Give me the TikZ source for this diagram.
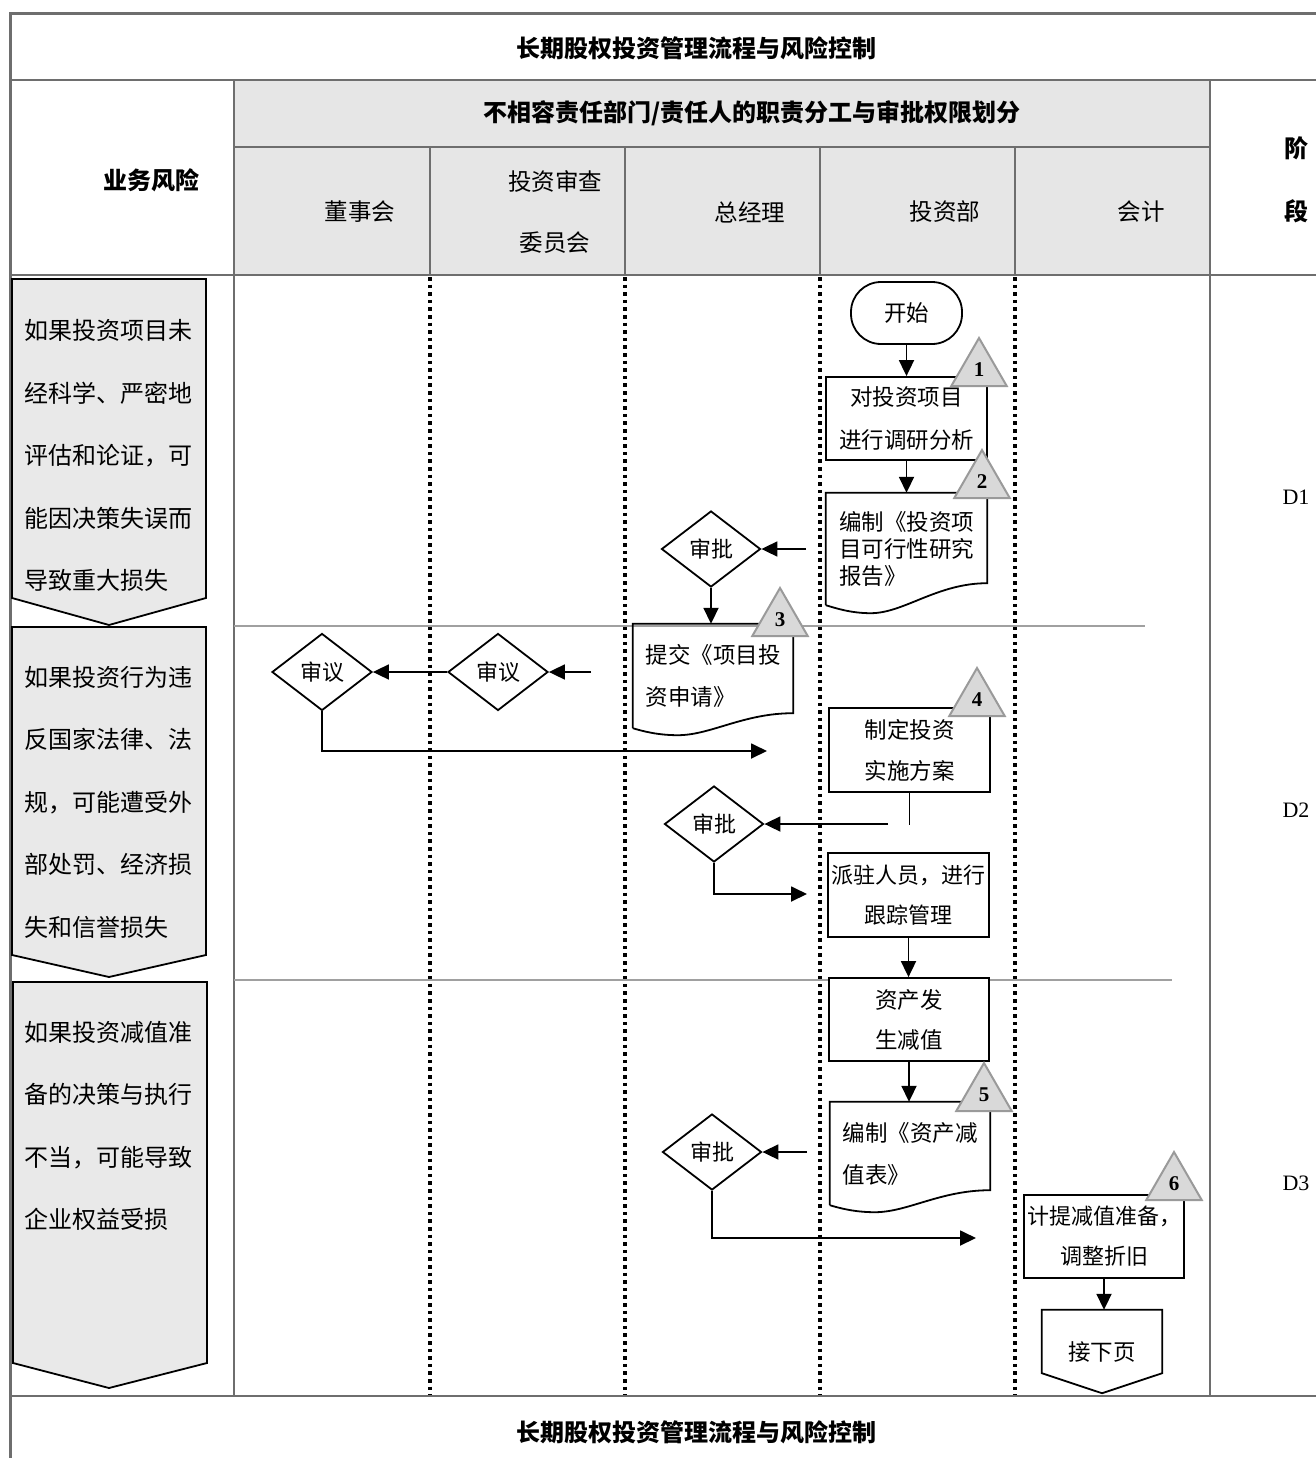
\documentclass[tikz,border=0pt]{standalone}
\usepackage{fontspec}
\setmainfont{Liberation Serif}
\newfontfamily\cjk{Noto Sans CJK SC}
\usetikzlibrary{shapes.geometric,arrows.meta,calc}
\definecolor{gridgray}{HTML}{6E6E6E}
\definecolor{headfill}{HTML}{E6E6E6}
\definecolor{riskfill}{HTML}{E9E9E9}
\definecolor{trifill}{HTML}{D9D9D9}
\definecolor{triline}{HTML}{9A9A9A}
\definecolor{sepgray}{HTML}{A0A0A0}

% outline of a document symbol around a node: #2 = rise of the right end, #3 = dip of the wave
\newcommand\docoutline[3]{%
  \draw[plain] (#1.south west) -- (#1.north west) -- (#1.north east) -- ($(#1.south east)+(0,#2)$)
    .. controls ($(#1.south east)+(-50pt,#2)$) and ($(#1.south west)+(78pt,-#3)$) .. ($(#1.south west)+(45pt,-#3)$)
    .. controls ($(#1.south west)+(25pt,-#3)$) and ($(#1.south west)+(10pt,-3pt)$) .. (#1.south west);}

\begin{document}
\begin{tikzpicture}[x=1pt,y=-1pt,
  grid/.style={draw=gridgray,line width=2.4pt},
  lane/.style={line width=3.6pt,dash pattern=on 3.6pt off 4pt},
  sep/.style={draw=sepgray,line width=2pt},
  plain/.style={line width=1.8pt},
  arr/.style={line width=1.8pt,-{Triangle[length=16pt,width=15pt]}},
  txt/.style={font=\cjk\fontsize{22.5}{28}\selectfont,inner sep=0pt},
  head/.style={font=\cjk\bfseries\fontsize{24}{28}\selectfont,inner sep=0pt},
  lanehead/.style={font=\cjk\fontsize{23.5}{61}\selectfont,inner sep=0pt,align=center},
  stepbox/.style={draw,line width=1.8pt,fill=white,minimum width=161pt,minimum height=84pt,inner sep=0pt,
    font=\cjk\fontsize{22.5}{41}\selectfont,align=center},
  docbox/.style={minimum width=161pt,inner sep=0pt,font=\cjk\fontsize{22.5}{42}\selectfont,align=left},
  decision/.style={diamond,draw,line width=1.8pt,fill=white,minimum width=99pt,minimum height=76pt,
    inner sep=0pt,font=\cjk\fontsize{22}{28}\selectfont},
  ctrl/.style={regular polygon,regular polygon sides=3,minimum size=64pt,inner sep=0pt,
    fill=trifill,draw=triline,line width=2pt,font=\bfseries\fontsize{21}{21}\selectfont},
  riskshape/.style={draw,line width=1.8pt,fill=riskfill},
  risktext/.style={font=\cjk\fontsize{24}{62.5}\selectfont,align=left,inner sep=0pt,anchor=west},
  phase/.style={font=\fontsize{22}{22}\selectfont,inner sep=0pt}
]
\useasboundingbox (0,0) rectangle (1316,1458);

% ---------- table frame and header ----------
\fill[headfill] (234,80) rectangle (1210,275);
\draw[grid,line width=3pt] (9,14) -- (1316,14);
\draw[grid,line width=3pt] (10,14) -- (10,1458);
\draw[grid] (10,80) -- (1316,80);
\draw[grid] (10,275) -- (1316,275);
\draw[grid] (234,147) -- (1210,147);
\draw[grid] (234,80) -- (234,1396);
\draw[grid] (1210,80) -- (1210,1396);
\foreach \x in {430,625,820,1015} \draw[grid] (\x,147) -- (\x,275);
\draw[grid] (10,1396) -- (1316,1396);

% lane separators in the body
\foreach \x in {430,625,820,1015} \draw[lane] (\x,277) -- (\x,1395);

% stage separators
\draw[sep] (234,626) -- (1145,626);
\draw[sep] (234,980) -- (1172,980);

% header texts
\node[head] (title) at (696,48) {长期股权投资管理流程与风险控制};
\node[head] (risk) at (151,180) {业务风险};
\node[head] (duty) at (752,113) {不相容责任部门/责任人的职责分工与审批权限划分};
\node[lanehead] (l1) at (360,212) {董事会};
\node[lanehead] (l2) at (555,212) {投资审查\\委员会};
\node[lanehead] (l3) at (750,212) {总经理};
\node[lanehead] (l4) at (945,212) {投资部};
\node[lanehead] (l5) at (1141,212) {会计};
\node[head] (st1) at (1296,148) {阶};
\node[head] (st2) at (1296,211) {段};
\node[head] (title2) at (696,1432) {长期股权投资管理流程与风险控制};

% ---------- risk column ----------
\draw[riskshape] (12,279) -- (206,279) -- (206,598) -- (109,625) -- (12,598) -- cycle;
\draw[riskshape] (12,627) -- (206,627) -- (206,955) -- (109,977) -- (12,955) -- cycle;
\draw[riskshape] (13,982) -- (207,982) -- (207,1363) -- (109,1388) -- (13,1363) -- cycle;
\node[risktext] (r1) at (24,455.5) {如果投资项目未\\经科学、严密地\\评估和论证，可\\能因决策失误而\\导致重大损失};
\node[risktext] (r2) at (24,802) {如果投资行为违\\反国家法律、法\\规，可能遭受外\\部处罚、经济损\\失和信誉损失};
\node[risktext] (r3) at (24,1126) {如果投资减值准\\备的决策与执行\\不当，可能导致\\企业权益受损};

% ---------- stage labels ----------
\node[phase] (d1) at (1296,497) {D1};
\node[phase] (d2) at (1296,810) {D2};
\node[phase] (d3) at (1296,1183) {D3};

% ---------- flow: stage D1 ----------
\node[txt,draw,line width=1.8pt,rounded corners=30pt,minimum width=111pt,minimum height=62pt] (start) at (906.5,313) {开始};
\node[stepbox,minimum height=83pt,font=\cjk\fontsize{22.5}{43}\selectfont] (box1) at (906.5,418.5) {对投资项目\\进行调研分析};
\node[docbox,minimum height=112pt,font=\cjk\fontsize{22.5}{27}\selectfont] (doc2) at (906.5,549) {编制《投资项\\目可行性研究\\报告》};
\docoutline{doc2}{22pt}{8pt}
\node[decision] (dia1) at (711,549) {审批};
\node[docbox,minimum width=160pt,minimum height=104pt] (doc3) at (713,676) {提交《项目投\\资申请》};
\docoutline{doc3}{15pt}{7pt}

\draw[arr] (start.south) -- (box1.north);
\draw[arr] (box1.south) -- (doc2.north);
\coordinate (c1) at (806,549);
\draw[arr] (c1) -- (dia1.east);
\draw[arr] (dia1.south) -- (dia1.south |- doc3.north);

% ---------- flow: stage D2 ----------
\node[decision,minimum width=100pt,minimum height=77pt] (board) at (322,672) {审议};
\node[decision,minimum width=100pt,minimum height=77pt] (comm) at (498,672) {审议};
\coordinate (c2) at (591,672);
\draw[arr] (c2) -- (comm.east);
\draw[arr] (comm.west) -- (board.east);
\coordinate (c3) at (767,751);
\draw[arr] (board.south) |- (c3);

\node[stepbox] (box4) at (909.5,750) {制定投资\\实施方案};
\coordinate (c4) at (909.5,825);
\draw[plain] (box4.south) -- (c4);
\node[decision] (dia2) at (714,824) {审批};
\coordinate (c5) at (888,824);
\draw[arr] (c5) -- (dia2.east);
\node[stepbox,font=\cjk\fontsize{22}{40}\selectfont] (box5) at (908.5,895) {派驻人员，进行\\跟踪管理};
\coordinate (c6) at (807,894);
\draw[arr] (dia2.south) |- (c6);

% ---------- flow: stage D3 ----------
\node[stepbox,minimum width=160pt,minimum height=83pt,font=\cjk\fontsize{22.5}{40}\selectfont] (box6) at (909,1019.5) {资产发\\生减值};
\draw[arr] (box5.south) -- (box5.south |- box6.north);
\node[docbox,minimum width=160pt,minimum height=103pt] (doc7) at (910,1153.5) {编制《资产减\\值表》};
\docoutline{doc7}{15pt}{7pt}
\draw[arr] (box6.south) -- (box6.south |- doc7.north);
\node[decision] (dia3) at (712,1152) {审批};
\coordinate (c7) at (807,1152);
\draw[arr] (c7) -- (dia3.east);
\node[stepbox,minimum width=160pt,minimum height=83pt,font=\cjk\fontsize{22}{40}\selectfont] (box8) at (1104,1236.5) {计提减值准备，\\调整折旧};
\coordinate (c8) at (976,1238);
\draw[arr] (dia3.south) |- (c8);
\node[txt,minimum width=120pt,minimum height=83pt] (next) at (1102,1351.5) {接下页};
\draw[plain] (next.north west) -- (next.north east) -- ($(next.south east)+(0,20pt)$) -- (next.south)
  -- ($(next.south west)+(0,20pt)$) -- cycle;
\draw[arr] (box8.south) -- (box8.south |- next.north);

% ---------- control points ----------
\node[ctrl] (k1) at (979,370) {1};
\node[ctrl] (k2) at (982,482) {2};
\node[ctrl] (k3) at (780,620) {3};
\node[ctrl] (k4) at (977,700) {4};
\node[ctrl] (k5) at (984,1095) {5};
\node[ctrl] (k6) at (1174,1184) {6};
\end{tikzpicture}
\end{document}
